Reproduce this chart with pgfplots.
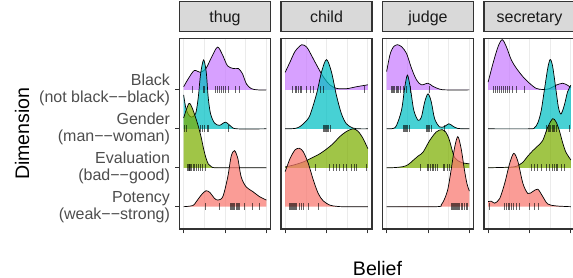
\documentclass[border=0pt]{standalone}
\usepackage{pgfplots}
\pgfplotsset{compat=1.18}
\usepackage{fontspec}
\setmainfont{Liberation Sans}
\definecolor{gray20}{HTML}{333333}
\definecolor{gray30}{HTML}{4D4D4D}
\definecolor{gray10}{HTML}{1A1A1A}
\definecolor{gray85}{HTML}{D9D9D9}
\definecolor{gray92}{HTML}{EBEBEB}
\definecolor{cBlack}{HTML}{C77CFF}
\definecolor{cGender}{HTML}{00BFC4}
\definecolor{cEval}{HTML}{7CAE00}
\definecolor{cPot}{HTML}{F8766D}

\newcommand{\ridge}[3]{%
\addplot[draw=none, fill=#1, fill opacity=0.72, smooth, tension=0.5] table[row sep=\\, x index=0, y expr=\thisrowno{1}+#2] {#3} -- (axis cs:1,#2) -- (axis cs:0,#2) -- cycle;
\addplot[black, line width=0.7pt, smooth, tension=0.5] table[row sep=\\, x index=0, y expr=\thisrowno{1}+#2] {#3};}
\newcommand{\rug}[2]{%
\addplot[only marks, mark=|, mark size=3.6pt, mark options={draw=black, draw opacity=0.6, line width=0.6pt}] table[row sep=\\, x index=0, y expr=#1] {#2};}

\pgfplotsset{ridgeax/.style={
  anchor=north west,
  scale only axis, width=91pt, height=190.5pt,
  xmin=-0.05, xmax=1.05, ymin=0.427, ymax=5.32,
  xtick={0,0.5,1}, minor xtick={0.25,0.75}, xticklabels={},
  ytick=\empty,
  tick align=outside, major tick length=4.5pt, minor tick length=0pt,
  tick pos=left,
  xmajorgrids, xminorgrids,
  major grid style={color=gray92, line width=1pt},
  minor grid style={color=gray92, line width=0.5pt},
  axis line style={gray20, line width=1.1pt},
  every tick/.style={gray20, line width=1pt},
  title style={at={(0.5,1)}, anchor=south, yshift=0pt, fill=gray85, draw=gray20,
    line width=1.1pt, minimum width=91pt, minimum height=30pt, inner sep=0pt,
    text height=12.3pt, text depth=1.7pt, font=\fontsize{16}{18}\selectfont, text=gray10},
}}

\begin{document}
\begin{tikzpicture}
\path[use as bounding box] (0,0) rectangle (573pt,-278pt);

% ---------- thug ----------
\begin{axis}[ridgeax, at={(179.5pt,-38.5pt)}, title={thug},
  ytick={1,2,3,4},
  yticklabels={{Potency\\(weak−−strong)},{Evaluation\\(bad−−good)},{Gender\\(man−−woman)},{Black\\(not black−−black)}},
  yticklabel style={align=right, font=\fontsize{16}{17}\selectfont, text=gray30, xshift=-1.5pt}]
\ridge{cBlack}{4}{0 0.08\\ 0.06 0.30\\ 0.13 0.50\\ 0.2 0.45\\ 0.27 0.55\\ 0.34 0.85\\ 0.41 1.10\\ 0.47 0.90\\ 0.53 0.62\\ 0.6 0.55\\ 0.66 0.55\\ 0.71 0.42\\ 0.76 0.15\\ 0.82 0.03\\ 0.9 0\\ 1 0\\}
\rug{4}{0.10\\0.233\\0.249\\0.386\\0.406\\0.434\\0.454\\0.474\\0.498\\0.542\\0.627\\0.667\\}
\ridge{cGender}{3}{0 0.87\\ 0.024 0.56\\ 0.052 0.39\\ 0.092 0.30\\ 0.145 0.39\\ 0.177 0.81\\ 0.205 1.41\\ 0.241 1.77\\ 0.273 1.46\\ 0.297 0.81\\ 0.325 0.39\\ 0.373 0.15\\ 0.434 0.09\\ 0.506 0.17\\ 0.574 0.06\\ 0.643 0\\ 1 0\\}
\rug{3}{0.012\\0.032\\0.205\\0.225\\0.245\\0.281\\0.301\\0.538\\}
\ridge{cEval}{2}{0 1.28\\ 0.064 1.65\\ 0.11 1.50\\ 0.17 1.12\\ 0.21 0.80\\ 0.24 0.50\\ 0.27 0.25\\ 0.30 0.09\\ 0.34 0.02\\ 0.42 0\\ 1 0\\}
\rug{2}{0.04\\0.052\\0.064\\0.072\\0.084\\0.096\\0.112\\0.133\\0.153\\0.173\\0.201\\0.221\\0.261\\}
\ridge{cPot}{1}{0 0\\ 0.112 0.03\\ 0.153 0.13\\ 0.213 0.30\\ 0.27 0.41\\ 0.32 0.36\\ 0.37 0.22\\ 0.414 0.17\\ 0.474 0.26\\ 0.534 0.77\\ 0.574 1.29\\ 0.614 1.44\\ 0.655 1.24\\ 0.695 0.77\\ 0.755 0.51\\ 0.835 0.39\\ 0.916 0.26\\ 1 0.17\\}
\rug{1}{0.265\\0.426\\0.566\\0.582\\0.594\\0.606\\0.618\\0.631\\0.643\\0.655\\0.675\\0.735\\0.835\\0.916\\}
\end{axis}

% ---------- child ----------
\begin{axis}[ridgeax, at={(281pt,-38.5pt)}, title={child}]
\ridge{cBlack}{4}{0 0.45\\ 0.06 0.72\\ 0.12 0.99\\ 0.2 1.16\\ 0.26 1.10\\ 0.3 0.96\\ 0.38 0.64\\ 0.46 0.34\\ 0.54 0.13\\ 0.62 0.04\\ 0.74 0.03\\ 0.86 0.08\\ 1 0.13\\}
\rug{4}{0.092\\0.12\\0.14\\0.16\\0.18\\0.2\\0.26\\0.3\\0.34\\0.42\\0.46\\0.96\\}
\ridge{cGender}{3}{0 0\\ 0.12 0.01\\ 0.18 0.06\\ 0.24 0.17\\ 0.30 0.35\\ 0.38 0.90\\ 0.44 1.46\\ 0.50 1.78\\ 0.56 1.46\\ 0.62 0.86\\ 0.68 0.39\\ 0.74 0.13\\ 0.82 0.02\\ 0.9 0\\ 1 0\\}
\rug{3}{0.46\\0.475\\0.49\\0.5\\0.51\\0.525\\0.54\\}
\ridge{cEval}{2}{0 0.02\\ 0.12 0.08\\ 0.22 0.15\\ 0.32 0.25\\ 0.42 0.36\\ 0.5 0.48\\ 0.58 0.62\\ 0.66 0.80\\ 0.74 0.93\\ 0.82 1.0\\ 0.88 0.94\\ 0.94 0.76\\ 1 0.49\\}
\rug{2}{0.36\\0.532\\0.58\\0.62\\0.66\\0.70\\0.74\\0.80\\0.84\\0.86\\0.98\\}
\ridge{cPot}{1}{0 0.90\\ 0.06 1.24\\ 0.12 1.46\\ 0.172 1.50\\ 0.22 1.41\\ 0.28 1.11\\ 0.34 0.69\\ 0.4 0.34\\ 0.46 0.15\\ 0.54 0.04\\ 0.62 0.01\\ 0.7 0\\ 1 0\\}
\rug{1}{0.048\\0.06\\0.072\\0.084\\0.096\\0.108\\0.12\\0.14\\0.172\\0.2\\0.22\\0.28\\0.4\\}
\end{axis}

% ---------- judge ----------
\begin{axis}[ridgeax, at={(382.5pt,-38.5pt)}, title={judge}]
\ridge{cBlack}{4}{0 0.47\\ 0.04 0.90\\ 0.08 1.10\\ 0.128 1.16\\ 0.18 1.11\\ 0.24 0.94\\ 0.3 0.56\\ 0.36 0.26\\ 0.42 0.13\\ 0.5 0.17\\ 0.56 0.09\\ 0.64 0.02\\ 0.72 0\\ 1 0\\}
\rug{4}{0.06\\0.072\\0.084\\0.096\\0.112\\0.128\\0.144\\0.168\\0.2\\0.232\\0.28\\0.512\\}
\ridge{cGender}{3}{0 0\\ 0.08 0.01\\ 0.12 0.09\\ 0.18 0.48\\ 0.22 1.08\\ 0.252 1.38\\ 0.288 1.03\\ 0.328 0.48\\ 0.38 0.22\\ 0.42 0.30\\ 0.46 0.69\\ 0.5 0.90\\ 0.54 0.69\\ 0.58 0.26\\ 0.64 0.05\\ 0.7 0.06\\ 0.752 0.13\\ 0.8 0.07\\ 0.86 0.01\\ 1 0\\}
\rug{3}{0.2\\0.212\\0.224\\0.236\\0.248\\0.272\\0.48\\0.492\\0.504\\0.52\\0.536\\0.70\\}
\ridge{cEval}{2}{0 0\\ 0.1 0.005\\ 0.2 0.03\\ 0.26 0.08\\ 0.32 0.19\\ 0.38 0.30\\ 0.44 0.40\\ 0.52 0.70\\ 0.6 0.92\\ 0.67 0.98\\ 0.72 0.90\\ 0.76 0.70\\ 0.82 0.27\\ 0.9 0.14\\ 1 0.10\\}
\rug{2}{0.408\\0.488\\0.508\\0.528\\0.548\\0.568\\0.588\\0.608\\0.68\\0.70\\0.728\\0.76\\}
\ridge{cPot}{1}{0 0\\ 0.6 0\\ 0.66 0.05\\ 0.7 0.2\\ 0.74 0.45\\ 0.78 0.95\\ 0.82 1.5\\ 0.86 1.80\\ 0.9 1.5\\ 0.94 0.95\\ 0.97 0.6\\ 1 0.4\\}
\rug{1}{0.78\\0.79\\0.80\\0.82\\0.83\\0.84\\0.86\\0.87\\0.88\\0.9\\0.92\\0.94\\0.96\\0.98\\}
\end{axis}

% ---------- secretary ----------
\begin{axis}[ridgeax, at={(484pt,-38.5pt)}, title={secretary}]
\ridge{cBlack}{4}{0 0.2\\ 0.06 0.69\\ 0.12 1.11\\ 0.17 1.29\\ 0.22 1.11\\ 0.28 0.77\\ 0.34 0.56\\ 0.42 0.34\\ 0.5 0.17\\ 0.58 0.04\\ 0.66 0.01\\ 0.74 0.03\\ 0.82 0.12\\ 0.9 0.17\\ 0.96 0.12\\ 1 0.06\\}
\rug{4}{0.06\\0.084\\0.108\\0.132\\0.156\\0.18\\0.204\\0.228\\0.26\\0.292\\0.34\\0.44\\}
\ridge{cGender}{3}{0 0\\ 0.5 0\\ 0.56 0.03\\ 0.6 0.15\\ 0.64 0.45\\ 0.68 1.0\\ 0.72 1.55\\ 0.75 1.78\\ 0.78 1.6\\ 0.82 1.0\\ 0.85 0.55\\ 0.88 0.38\\ 0.92 0.6\\ 0.96 0.95\\ 1 1.12\\}
\rug{3}{0.708\\0.724\\0.74\\0.756\\0.772\\0.788\\0.804\\0.828\\0.98\\}
\ridge{cEval}{2}{0 0\\ 0.3 0.02\\ 0.38 0.08\\ 0.42 0.14\\ 0.48 0.30\\ 0.54 0.44\\ 0.6 0.56\\ 0.66 0.70\\ 0.72 1.04\\ 0.78 1.26\\ 0.82 1.18\\ 0.86 0.96\\ 0.9 0.65\\ 0.94 0.40\\ 1 0.2\\}
\rug{2}{0.52\\0.56\\0.60\\0.64\\0.708\\0.74\\0.772\\0.8\\0.82\\0.84\\0.88\\0.92\\}
\ridge{cPot}{1}{0 0.13\\ 0.04 0.14\\ 0.08 0.09\\ 0.14 0.21\\ 0.2 0.6\\ 0.26 1.11\\ 0.31 1.37\\ 0.36 1.16\\ 0.42 0.6\\ 0.48 0.34\\ 0.54 0.39\\ 0.6 0.45\\ 0.66 0.26\\ 0.72 0.07\\ 0.82 0.02\\ 1 0\\}
\rug{1}{0.02\\0.2\\0.22\\0.24\\0.26\\0.28\\0.3\\0.34\\0.38\\0.5\\0.56\\0.612\\}
\end{axis}

\node[anchor=base, font=\fontsize{19.6}{22}\selectfont] at (377.5pt,-275pt) {Belief};
\node[rotate=90, anchor=base, font=\fontsize{19.6}{22}\selectfont] at (29pt,-133.7pt) {Dimension};
\end{tikzpicture}
\end{document}
